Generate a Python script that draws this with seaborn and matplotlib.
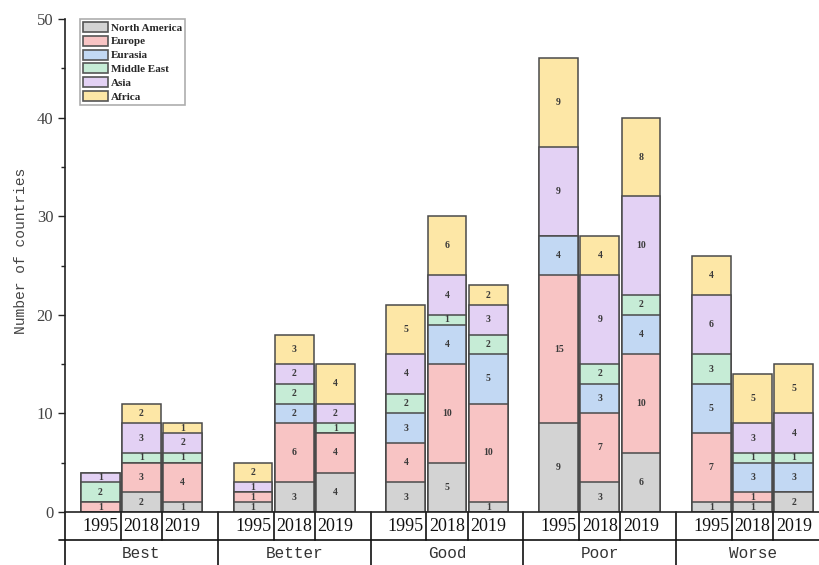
import pandas as pd
import matplotlib
matplotlib.use("Agg")
import matplotlib.pyplot as plt
import matplotlib.transforms as mtransforms
from matplotlib.patches import Patch
from matplotlib.ticker import MultipleLocator
import seaborn as sns

sns.set_theme(style="ticks")
plt.rcParams['font.family'] = ['Liberation Serif', 'DejaVu Serif']

# veriler (alttan üste yığın sırası)
groups = ["Best", "Better", "Good", "Poor", "Worse"]
years = ["1995", "2018", "2019"]
regions = ["North America", "Europe", "Eurasia", "Middle East", "Asia", "Africa"]
region_colors = ["#d3d3d3", "#f8c4c4", "#c2d8f3", "#c6ecd6", "#e3d1f4", "#fde7a6"]

# sıra: Best 1995/2018/2019, Better ..., Good ..., Poor ..., Worse ...
north_america = [0, 2, 1, 1, 3, 4, 3, 5, 1, 9, 3, 6, 1, 1, 2]
europe = [1, 3, 4, 1, 6, 4, 4, 10, 10, 15, 7, 10, 7, 1, 0]
eurasia = [0, 0, 0, 0, 2, 0, 3, 4, 5, 4, 3, 4, 5, 3, 3]
middle_east = [2, 1, 1, 0, 2, 1, 2, 1, 2, 0, 2, 2, 3, 1, 1]
asia = [1, 3, 2, 1, 2, 2, 4, 4, 3, 9, 9, 10, 6, 3, 4]
africa = [0, 2, 1, 2, 3, 4, 5, 6, 2, 9, 4, 8, 4, 5, 5]

GAP = 3.71      # grup aralığı (çubuk aralığı = 1)
BAR_W = 0.94
EDGE = "#4a4a4a"

df = pd.DataFrame({
    "group": [g for g in groups for _ in years],
    "year": years * len(groups),
    "North America": north_america,
    "Europe": europe,
    "Eurasia": eurasia,
    "Middle East": middle_east,
    "Asia": asia,
    "Africa": africa,
})
df["pos"] = [gi * GAP + yi for gi in range(len(groups)) for yi in range(len(years))]
cum = df[regions].cumsum(axis=1)

fig = plt.figure(figsize=(8.19, 5.65), dpi=100)
ax = fig.add_axes([65 / 819, 53 / 565, 764 / 819, 493 / 565])

# üstten alta kümülatif çubuklar, alttakiler üstüne çizilir
for reg, col in zip(reversed(regions), reversed(region_colors)):
    sns.barplot(x=df["pos"], y=cum[reg], native_scale=True, color=col, saturation=1,
                width=BAR_W, edgecolor=EDGE, linewidth=1.1, errorbar=None, ax=ax)

# segment etiketleri
for i, row in df.iterrows():
    for reg in regions:
        val = row[reg]
        if val > 0:
            top = cum.loc[i, reg]
            ax.text(row["pos"], top - val / 2, str(val), ha="center", va="center",
                    fontsize=7, fontweight="bold", color="#3a3a3a")

left = 1 - GAP / 2
right = (len(groups) - 1) * GAP + 1 + GAP / 2
ax.set_xlim(left, right)
ax.set_ylim(0, 50)
ax.yaxis.set_major_locator(MultipleLocator(10))
ax.yaxis.set_minor_locator(MultipleLocator(5))
ax.tick_params(axis="y", which="major", length=5, width=1, direction="out",
               labelsize=12, labelcolor="#444444", color="#222222")
ax.tick_params(axis="y", which="minor", length=3, width=1, direction="out", color="#222222")
ax.set_xticks([])
ax.set_xlabel("")
ax.set_ylabel("Number of countries", family="Liberation Mono", fontsize=10.5, color="#444444")
ax.yaxis.set_label_coords(-0.049, 0.53)
sns.despine(ax=ax, top=True, right=True)
for s in ["left", "bottom"]:
    ax.spines[s].set_color("#222222")
    ax.spines[s].set_linewidth(1.2)

# x ekseni tablo
trans = mtransforms.blended_transform_factory(ax.transData, ax.transAxes)
row_mid = -0.0568
line_kw = dict(color="#111111", lw=1.2, clip_on=False)
ax.plot([left - 0.15, right], [row_mid, row_mid], transform=trans, **line_kw)
for gi, g in enumerate(groups):
    gx = gi * GAP + 1 - GAP / 2
    ax.plot([gx, gx], [0, -0.2], transform=trans, **line_kw)
    for d in (0.5, 1.5):
        ax.plot([gi * GAP + d] * 2, [0, row_mid], transform=trans, **line_kw)
    for yi, yr in enumerate(years):
        ax.text(gi * GAP + yi, -0.029, yr, transform=trans, ha="center", va="center",
                fontsize=13, color="#111111")
    ax.text(gi * GAP + 1, -0.085, g, transform=trans, ha="center", va="center",
            family="Liberation Mono", fontsize=11.5, color="#333333")
ax.plot([right, right], [0, -0.2], transform=trans, **line_kw)

handles = [Patch(facecolor=c, edgecolor="#555555", linewidth=1.2, label=r)
           for r, c in zip(regions, region_colors)]
leg = ax.legend(handles=handles, loc="upper left", bbox_to_anchor=(0.02, 1.0),
                borderaxespad=0, fancybox=False, frameon=True, handlelength=2.2,
                handleheight=1.0, handletextpad=0.3, labelspacing=0.28, borderpad=0.25,
                prop={"family": "Liberation Serif", "weight": "bold", "size": 8})
leg.get_frame().set_edgecolor("#999999")
leg.get_frame().set_linewidth(1.2)

fig.savefig("out.png", dpi=100)
